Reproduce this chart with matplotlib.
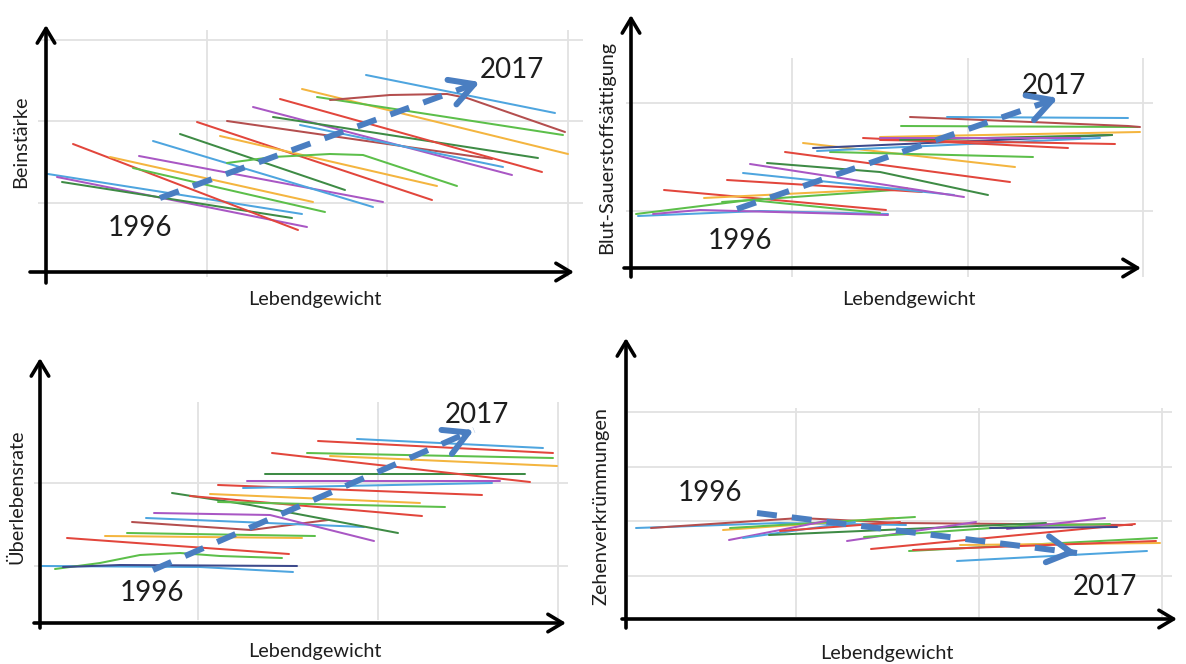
import matplotlib
matplotlib.use('Agg')
import matplotlib.pyplot as plt

plt.rcParams['font.family'] = ['Lato', 'DejaVu Sans']

# ---------------- colours ----------------
RED = '#e2463c'
BLUE = '#4ea5df'
GREEN = '#5cbf4a'
DGREEN = '#3e8b45'
PURPLE = '#a957c4'
ORANGE = '#f4b53f'
BROWN = '#b44e4e'
NAVY = '#3d4a8c'
TREND = '#4a7ec1'

# ---------------- texts ----------------
x_label = 'Lebendgewicht'
y_labels = ['Beinstärke', 'Blut-Sauerstoffsättigung', 'Überlebensrate', 'Zehenverkrümmungen']
year_first = '1996'
year_last = '2017'

# ---------------- data (x = Lebendgewicht, y = trait; arbitrary units) ----------------
# Panel 1: Beinstärke
leg_lines = [
    [(2, 98), (256, 58)], [(11, 95), (261, 45)], [(16, 90), (246, 54)], [(27, 128), (252, 42)],
    [(64, 115), (267, 70)], [(87, 104), (279, 60)], [(93, 116), (337, 70)], [(107, 131), (327, 65)],
    [(134, 138), (299, 82)], [(151, 150), (386, 72)], [(181, 151), (446, 113)], [(174, 136), (391, 86)],
    [(181, 109), (227, 115), (284, 118), (317, 117), (411, 86)],
    [(207, 165), (466, 97)], [(227, 155), (492, 114)], [(254, 147), (457, 105)], [(234, 173), (496, 100)],
    [(256, 183), (522, 118)], [(271, 175), (517, 137)],
    [(284, 172), (344, 177), (401, 178), (421, 174), (519, 140)],
    [(320, 197), (509, 159)],
]
leg_colors = [BLUE, PURPLE, DGREEN, RED, ORANGE, GREEN, PURPLE, BLUE, DGREEN, RED, BROWN, ORANGE,
              GREEN, PURPLE, DGREEN, BLUE, RED, ORANGE, GREEN, BROWN, BLUE]
leg_trend = [(114, 74), (434, 190)]

# Panel 2: Blut-Sauerstoffsättigung
oxy_lines = [
    [(7, 52), (129, 57), (257, 54)], [(22, 54), (69, 58), (257, 53)], [(5, 54), (119, 68), (249, 55)],
    [(33, 78), (255, 58)], [(73, 70), (276, 80)], [(91, 66), (278, 79)], [(96, 88), (291, 76)],
    [(112, 95), (323, 73)], [(119, 104), (333, 71)], [(136, 105), (249, 96), (357, 73)],
    [(154, 116), (379, 86)], [(172, 125), (384, 101)], [(199, 116), (402, 111)],
    [(182, 120), (481, 133)], [(186, 117), (469, 130)], [(232, 130), (437, 120)],
    [(249, 128), (484, 124)], [(249, 131), (509, 136)], [(270, 142), (507, 141)],
    [(279, 151), (497, 142), (509, 141)], [(316, 151), (497, 150)], [(269, 128), (481, 133)],
    [(249, 130), (449, 130)],
]
oxy_colors = [BLUE, PURPLE, GREEN, RED, ORANGE, GREEN, RED, BLUE, PURPLE, DGREEN, RED, ORANGE, GREEN,
              NAVY, BLUE, RED, RED, ORANGE, GREEN, BROWN, BLUE, DGREEN, PURPLE]
oxy_trend = [(106, 59), (427, 170)]

# Panel 3: Überlebensrate
surv_lines = [
    [(2, 57), (160, 56), (253, 51)],
    [(15, 54), (60, 60), (100, 68), (140, 70), (180, 67), (242, 65)],
    [(23, 56), (80, 58), (257, 57)], [(27, 85), (249, 69)], [(65, 87), (262, 85)], [(87, 90), (275, 87)],
    [(92, 101), (211, 93), (288, 103)], [(106, 105), (324, 96)], [(114, 110), (230, 108), (334, 82)],
    [(132, 130), (210, 118), (358, 90)], [(150, 127), (382, 107)], [(170, 129), (380, 120)],
    [(178, 121), (405, 116)], [(178, 138), (442, 128)], [(203, 135), (452, 140)], [(207, 142), (460, 142)],
    [(225, 149), (485, 149)], [(232, 170), (490, 141)], [(278, 182), (513, 170)], [(317, 184), (503, 175)],
    [(267, 170), (513, 165)], [(290, 167), (517, 157)],
]
surv_colors = [BLUE, GREEN, NAVY, RED, ORANGE, GREEN, BROWN, BLUE, PURPLE, DGREEN, RED, ORANGE, GREEN,
               RED, BLUE, PURPLE, DGREEN, RED, RED, BLUE, GREEN, ORANGE]
surv_trend = [(113, 53), (434, 193)]

# Panel 4: Zehenverkrümmungen
toe_lines = [
    [(10, 91), (154, 96), (280, 94)], [(25, 91), (174, 101), (274, 96), (506, 94)],
    [(97, 89), (268, 101)], [(104, 91), (289, 102)], [(103, 79), (200, 98)], [(117, 81), (229, 97)],
    [(143, 84), (420, 96)], [(221, 78), (350, 97)], [(238, 82), (394, 93), (484, 95)],
    [(245, 70), (509, 95)], [(283, 68), (531, 81)], [(334, 74), (534, 76)], [(287, 69), (530, 78)],
    [(331, 58), (521, 68)], [(381, 90), (479, 101)], [(364, 91), (491, 92)], [(154, 88), (274, 97)],
]
toe_colors = [BLUE, BROWN, ORANGE, GREEN, PURPLE, BLUE, DGREEN, PURPLE, GREEN, RED, GREEN, ORANGE, RED,
              BLUE, PURPLE, NAVY, RED]
toe_trend = [(131, 106), (451, 66)]

# ---------------- layout (pixels of the 1186x664 canvas) ----------------
panels = [
    dict(lines=leg_lines, colors=leg_colors, trend=leg_trend, ylabel=y_labels[0],
         rect=(0, 0, 593, 332), origin=(46, 272),
         yaxis=(-11, 247), xaxis=(-16, 528), hgrid=[232, 151, 69], hext=(-8, 537),
         vgrid=[161, 341, 522], vext=(-5, 242),
         ylab_pos=(-25, 130), xlab_pos=(269, -28), y1_pos=(94, 44), y2_pos=(466, 202)),
    dict(lines=oxy_lines, colors=oxy_colors, trend=oxy_trend, ylabel=y_labels[1],
         rect=(593, 0, 593, 332), origin=(631, 268),
         yaxis=(-9, 253), xaxis=(-7, 510), hgrid=[165, 57], hext=(-5, 522),
         vgrid=[161, 337, 512], vext=(-9, 210),
         ylab_pos=(-24, 121), xlab_pos=(278, -32), y1_pos=(109, 27), y2_pos=(423, 182)),
    dict(lines=surv_lines, colors=surv_colors, trend=surv_trend, ylabel=y_labels[2],
         rect=(0, 332, 593, 332), origin=(40, 623),
         yaxis=(-5, 265), xaxis=(-6, 526), hgrid=[140, 57], hext=(-6, 528),
         vgrid=[158, 338, 518], vext=(3, 221),
         ylab_pos=(-23, 126), xlab_pos=(275, -29), y1_pos=(112, 30), y2_pos=(437, 208)),
    dict(lines=toe_lines, colors=toe_colors, trend=toe_trend, ylabel=y_labels[3],
         rect=(593, 332, 593, 332), origin=(626, 619),
         yaxis=(-9, 281), xaxis=(-4, 551), hgrid=[207, 152, 98, 43], hext=(2, 546),
         vgrid=[170, 353, 536], vext=(2, 211),
         ylab_pos=(-25, 113), xlab_pos=(261, -34), y1_pos=(84, 126), y2_pos=(479, 32)),
]

W, H = 1186, 664
fig = plt.figure(figsize=(W / 100, H / 100), dpi=100)
fig.patch.set_facecolor('white')

TXT = '#1e1e1e'
GRID = '#e2e2e2'

for p in panels:
    x0, y0, w, h = p['rect']
    ox, oy = p['origin']
    ax = fig.add_axes([x0 / W, 1 - (y0 + h) / H, w / W, h / H])
    ax.set_xlim(x0 - ox, x0 + w - ox)
    ax.set_ylim(oy - (y0 + h), oy - y0)
    ax.axis('off')

    # grid
    ax.hlines(p['hgrid'], p['hext'][0], p['hext'][1], colors=GRID, lw=1.3, zorder=1)
    ax.vlines(p['vgrid'], p['vext'][0], p['vext'][1], colors=GRID, lw=1.3, zorder=1)

    # data lines
    for pts, c in zip(p['lines'], p['colors']):
        xs = [q[0] for q in pts]
        ys = [q[1] for q in pts]
        ax.plot(xs, ys, color=c, lw=1.45, solid_capstyle='round', zorder=3)

    # axes with arrow heads
    arrow_kw = dict(arrowstyle='->,head_length=0.7,head_width=0.42', lw=2.6, color='black',
                    shrinkA=0, shrinkB=0, mutation_scale=15)
    ax.annotate('', xy=(0, p['yaxis'][1]), xytext=(0, p['yaxis'][0]), arrowprops=arrow_kw,
                annotation_clip=False, zorder=5)
    ax.annotate('', xy=(p['xaxis'][1], 0), xytext=(p['xaxis'][0], 0), arrowprops=arrow_kw,
                annotation_clip=False, zorder=5)

    # trend arrow (dashed)
    (sx, sy), (ex, ey) = p['trend']
    lw_t = 4.3
    ax.plot([sx, ex], [sy, ey], color=TREND, lw=lw_t, dashes=(14.4 / lw_t, 10.8 / lw_t),
            solid_capstyle='butt', dash_capstyle='butt', zorder=6)
    fx = ex - (ex - sx) * 0.03
    fy = ey - (ey - sy) * 0.03
    ax.annotate('', xy=(ex, ey), xytext=(fx, fy),
                arrowprops=dict(arrowstyle='->,head_length=0.85,head_width=0.47', lw=lw_t, color=TREND,
                                shrinkA=0, shrinkB=0, mutation_scale=20),
                annotation_clip=False, zorder=6)

    # texts
    ax.text(*p['ylab_pos'], p['ylabel'], rotation=90, ha='center', va='center', fontsize=14.3, color=TXT)
    ax.text(*p['xlab_pos'], x_label, ha='center', va='center', fontsize=14.3, color=TXT)
    ax.text(*p['y1_pos'], year_first, ha='center', va='center', fontsize=20, color=TXT)
    ax.text(*p['y2_pos'], year_last, ha='center', va='center', fontsize=20, color=TXT)

fig.savefig('out.png', dpi=100, facecolor='white')
